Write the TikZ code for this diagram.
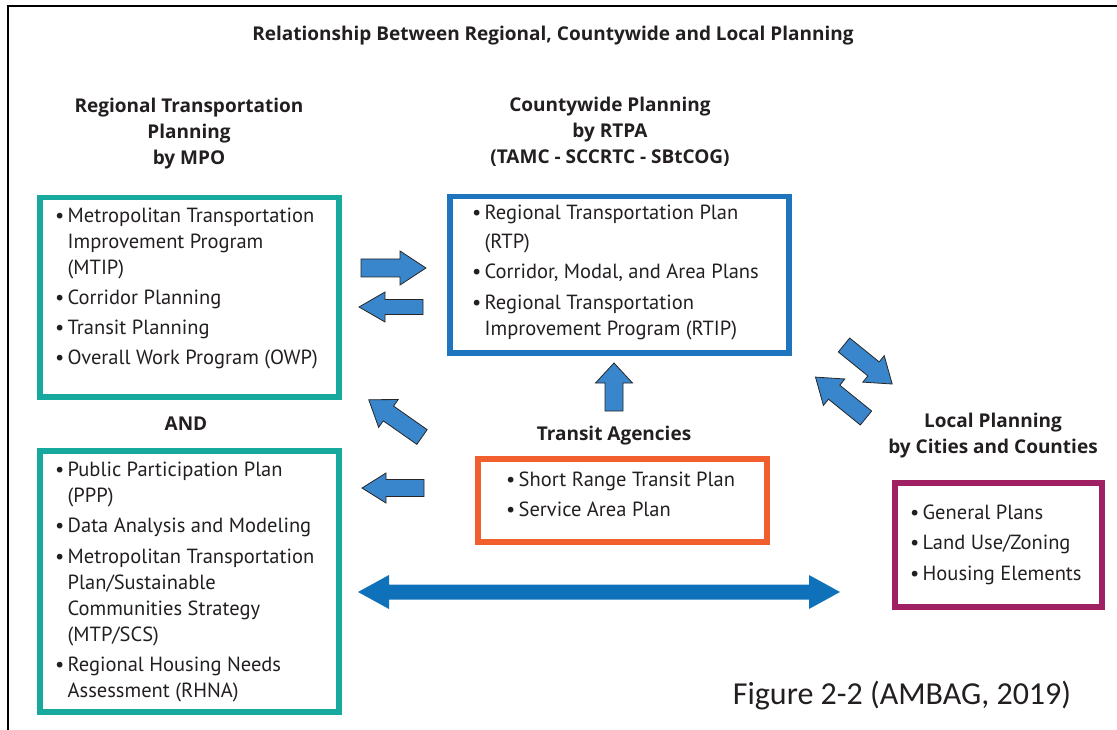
\documentclass[tikz,border=0pt]{standalone}
\usepackage{fontspec}
\setmainfont{PT Sans}
\newfontfamily\headfont{Open Sans}
\newfontfamily\capfont{Carlito}
\definecolor{ink}{RGB}{35,31,32}
\definecolor{tealc}{RGB}{23,168,158}
\definecolor{bluec}{RGB}{30,117,190}
\definecolor{orangec}{RGB}{240,95,45}
\definecolor{magc}{RGB}{160,32,100}
\definecolor{arrfill}{RGB}{58,134,204}
\definecolor{dblc}{RGB}{16,113,187}
\newcommand\bu{\makebox[12.5pt][l]{\textbullet}}
\newcommand\ind{\hspace*{12.5pt}}
\newcommand\blockarr[8]{% name x y angle L shafthalf headhalf headlen
  \coordinate (#1) at (#2,#3);
  \draw[blockarrow, shift={(#1)}, rotate=#4]
    (0,-#6) -- (#5-#8,-#6) -- (#5-#8,-#7) -- (#5,0) -- (#5-#8,#7) -- (#5-#8,#6) -- (0,#6) -- cycle;}
\begin{document}
\begin{tikzpicture}[x=1pt,y=-1pt,
  framebox/.style={draw, line width=5.5pt, inner sep=0pt, anchor=north west, fill=none},
  listtext/.style={anchor=base west, inner sep=0pt, align=left, text=ink, font=\fontsize{20.5}{26}\selectfont},
  head/.style={anchor=base, inner sep=0pt, align=center, text=ink, font=\headfont\bfseries\fontsize{19}{26}\selectfont},
  blockarrow/.style={fill=arrfill, draw=black!85, line width=0.8pt, line join=miter}]
\useasboundingbox (0,0) rectangle (1117,730);
% outer frame
\coordinate (fbl) at (8,730);
\coordinate (ftl) at (8,6);
\coordinate (ftr) at (1117,6);
\draw[line width=2pt, black] (fbl) -- (ftl) -- (ftr);

% title (anchor = baseline of last line)
\node[head] (title) at (553,41) {Relationship Between Regional, Countywide and Local Planning};

% headings
\node[head] (hA) at (189,165) {Regional Transportation\\Planning\\by MPO};
\node[head] (hC) at (610,164) {Countywide Planning\\by RTPA\\(TAMC - SCCRTC - SBtCOG)};
\node[head] (hAnd) at (186,430) {AND};
\node[head] (hD) at (614,440) {Transit Agencies};
\node[head] (hE) at (993,453) {Local Planning\\by Cities and Counties};

% boxes
\node[framebox, draw=tealc, minimum width=299pt, minimum height=199pt] (boxA) at (37,195) {};
\node[framebox, draw=tealc, minimum width=299pt, minimum height=261pt] (boxB) at (37,448) {};
\node[framebox, draw=bluec, minimum width=339pt, minimum height=156pt] (boxC) at (447,194) {};
\node[framebox, draw=orangec, minimum width=289pt, minimum height=83pt] (boxD) at (475,456) {};
\node[framebox, draw=magc, minimum width=207pt, minimum height=124pt] (boxE) at (892,480) {};

% lists (anchor = baseline of last line)
\node[listtext] (listA) at (55,364) {\bu Metropolitan Transportation\\ \ind Improvement Program\\ \ind (MTIP)\\[4pt]
 \bu Corridor Planning\\[4pt] \bu Transit Planning\\[4pt] \bu Overall Work Program (OWP)};
\node[listtext] (listB) at (55,697) {\bu Public Participation Plan\\ \ind (PPP)\\[4pt]
 \bu Data Analysis and Modeling\\[5pt]
 \bu Metropolitan Transportation\\ \ind Plan/Sustainable\\ \ind Communities Strategy\\ \ind (MTP/SCS)\\[4pt]
 \bu Regional Housing Needs\\ \ind Assessment (RHNA)};
\node[listtext] (listC) at (472,335) {\bu Regional Transportation Plan\\[3pt] \ind (RTP)\\[4pt]
 \bu Corridor, Modal, and Area Plans\\[5pt] \bu Regional Transportation\\ \ind Improvement Program (RTIP)};
\node[listtext] (listD) at (506,516) {\bu Short Range Transit Plan\\[4pt] \bu Service Area Plan};
\node[listtext] (listE) at (910,580) {\bu General Plans\\[4pt] \bu Land Use/Zoning\\[5pt] \bu Housing Elements};

% block arrows
\blockarr{a1}{361}{268}{0}{65}{9}{17}{26}
\blockarr{a2}{423}{307}{180}{64}{7.5}{15}{26}
\blockarr{a3}{422}{437}{145}{65}{9}{17}{24}
\blockarr{a4}{424}{488}{180}{62}{8.5}{15}{24}
\blockarr{a5}{614}{411}{90}{48}{9}{18.5}{20}
\blockarr{a6}{844}{345}{-39}{62}{9}{17}{24}
\blockarr{a7}{866}{418}{141}{65}{9}{17}{24}

% double arrow
\coordinate (dL) at (358,592);
\coordinate (dR) at (840,592);
\fill[dblc] (dL) -- ++(31,-17) -- ++(0,9.5) -- (809,584.5) -- (809,575) -- (dR) -- (809,609) -- (809,599.5) -- (389,599.5) -- (389,609) -- cycle;

% caption
\node[anchor=base, inner sep=0pt, text=ink, font=\capfont\fontsize{32}{34}\selectfont] (cap) at (902,704) {Figure 2-2 (AMBAG, 2019)};
\end{tikzpicture}
\end{document}
